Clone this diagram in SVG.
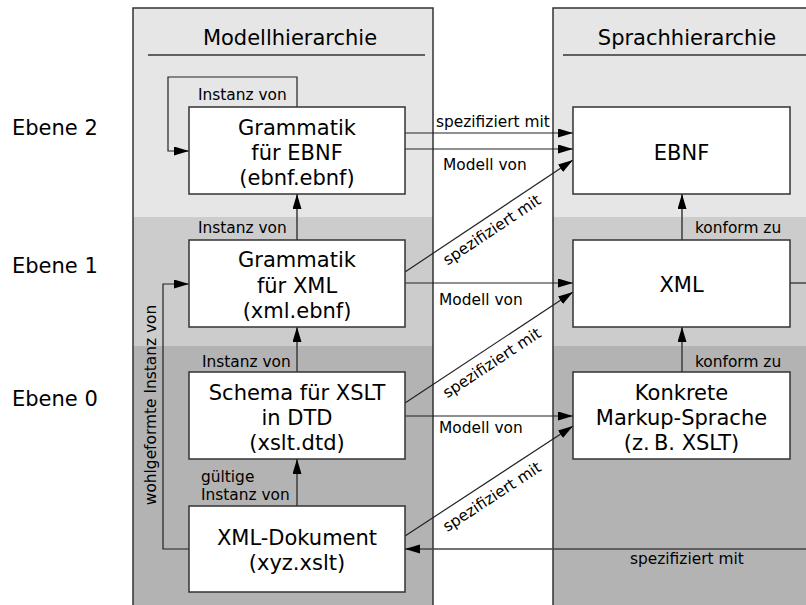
<svg xmlns="http://www.w3.org/2000/svg" width="806" height="605" viewBox="0 0 806 605">
<style>
text{font-family:"DejaVu Sans",Verdana,sans-serif;fill:#000}
.big{font-size:21px}
.lbl{font-size:15.4px}
.mid{text-anchor:middle}
.box{fill:#fff;stroke:#333;stroke-width:1.5}
.col{fill:none;stroke:#333;stroke-width:1.5}
.c{fill:none;stroke:#222;stroke-width:1.2}
.v{fill:none;stroke:#444;stroke-width:1.6}
</style>
<defs>
<marker id="ah" markerUnits="userSpaceOnUse" markerWidth="16" markerHeight="10" refX="15" refY="4.5" orient="auto">
<path d="M0,0 L15,4.5 L0,9 z" fill="#000"/>
</marker>
</defs>
<rect x="0" y="0" width="806" height="605" fill="#fff"/>
<g id="columns">
<rect x="133" y="8" width="300" height="209" fill="#e6e6e6"/>
<rect x="133" y="217" width="300" height="129" fill="#cccccc"/>
<rect x="133" y="346" width="300" height="262" fill="#b3b3b3"/>
<rect x="553" y="8" width="300" height="209" fill="#e6e6e6"/>
<rect x="553" y="217" width="300" height="129" fill="#cccccc"/>
<rect x="553" y="346" width="300" height="262" fill="#b3b3b3"/>
<rect class="col" x="133" y="8" width="300" height="610"/>
<rect class="col" x="553" y="8" width="300" height="610"/>
<line x1="148" y1="55" x2="425" y2="55" stroke="#333" stroke-width="1.5"/>
<line x1="563" y1="55" x2="810" y2="55" stroke="#333" stroke-width="1.5"/>
<text class="big mid" x="290" y="45">Modellhierarchie</text>
<text class="big mid" x="687" y="45">Sprachhierarchie</text>
</g>
<g id="levels">
<text class="big" x="12" y="135">Ebene 2</text>
<text class="big" x="12" y="273">Ebene 1</text>
<text class="big" x="12" y="406">Ebene 0</text>
</g>
<g id="connectors">
<path class="c" d="M297,107 V77 H168 V151 H189" marker-end="url(#ah)"/>
<path class="v" d="M297,240 V194" marker-end="url(#ah)"/>
<path class="v" d="M297,372 V327" marker-end="url(#ah)"/>
<path class="v" d="M297,506 V459" marker-end="url(#ah)"/>
<path class="c" d="M189,549 H163 V284 H189" marker-end="url(#ah)"/>
<path class="c" d="M405,133 H573" marker-end="url(#ah)"/>
<path class="c" d="M405,149 H573" marker-end="url(#ah)"/>
<path class="c" d="M405,272 L573,160" marker-end="url(#ah)"/>
<path class="c" d="M405,283 H573" marker-end="url(#ah)"/>
<path class="c" d="M405,403 L573,292" marker-end="url(#ah)"/>
<path class="c" d="M405,416 H573" marker-end="url(#ah)"/>
<path class="c" d="M405,536 L573,426" marker-end="url(#ah)"/>
<path class="v" d="M682,240 V194" marker-end="url(#ah)"/>
<path class="v" d="M682,372 V327" marker-end="url(#ah)"/>
<path class="v" d="M790,283 H840 V549 H405" marker-end="url(#ah)"/>
<text class="lbl" x="198" y="100">Instanz von</text>
<text class="lbl" x="198" y="233">Instanz von</text>
<text class="lbl" x="202" y="367">Instanz von</text>
<text class="lbl" x="201" y="482">gültige</text>
<text class="lbl" x="201" y="500">Instanz von</text>
<text class="lbl mid" transform="translate(156,405) rotate(-90)">wohlgeformte Instanz von</text>
<text class="lbl" x="436" y="127">spezifiziert mit</text>
<text class="lbl" x="443" y="170">Modell von</text>
<text class="lbl mid" transform="translate(492,230) rotate(-33.7)" y="5">spezifiziert mit</text>
<text class="lbl" x="439" y="305">Modell von</text>
<text class="lbl mid" transform="translate(492,363) rotate(-33.5)" y="5">spezifiziert mit</text>
<text class="lbl" x="439" y="433">Modell von</text>
<text class="lbl mid" transform="translate(492,497) rotate(-33.2)" y="5">spezifiziert mit</text>
<text class="lbl" x="695" y="233">konform zu</text>
<text class="lbl" x="695" y="367">konform zu</text>
<text class="lbl" x="630" y="564">spezifiziert mit</text>
</g>
<g id="n-grammatik-ebnf">
<rect class="box" x="189" y="107" width="216" height="87"/>
<text class="big mid" x="297" y="135">Grammatik</text>
<text class="big mid" x="297" y="160">für EBNF</text>
<text class="big mid" x="297" y="185">(ebnf.ebnf)</text>
</g>
<g id="n-grammatik-xml">
<rect class="box" x="189" y="240" width="216" height="87"/>
<text class="big mid" x="297" y="267">Grammatik</text>
<text class="big mid" x="297" y="293">für XML</text>
<text class="big mid" x="297" y="318">(xml.ebnf)</text>
</g>
<g id="n-schema">
<rect class="box" x="189" y="372" width="216" height="87"/>
<text class="big mid" x="297" y="400">Schema für XSLT</text>
<text class="big mid" x="297" y="425">in DTD</text>
<text class="big mid" x="297" y="450">(xslt.dtd)</text>
</g>
<g id="n-xml-dokument">
<rect class="box" x="189" y="506" width="216" height="86"/>
<text class="big mid" x="297" y="545">XML-Dokument</text>
<text class="big mid" x="297" y="570">(xyz.xslt)</text>
</g>
<g id="n-ebnf">
<rect class="box" x="573" y="107" width="217" height="87"/>
<text class="big mid" x="681.5" y="160">EBNF</text>
</g>
<g id="n-xml">
<rect class="box" x="573" y="240" width="217" height="87"/>
<text class="big mid" x="681.5" y="292">XML</text>
</g>
<g id="n-konkrete">
<rect class="box" x="573" y="372" width="217" height="87"/>
<text class="big mid" x="681.5" y="400">Konkrete</text>
<text class="big mid" x="681.5" y="425">Markup-Sprache</text>
<text class="big mid" x="681.5" y="450">(z.&#8201;B. XSLT)</text>
</g>
</svg>
